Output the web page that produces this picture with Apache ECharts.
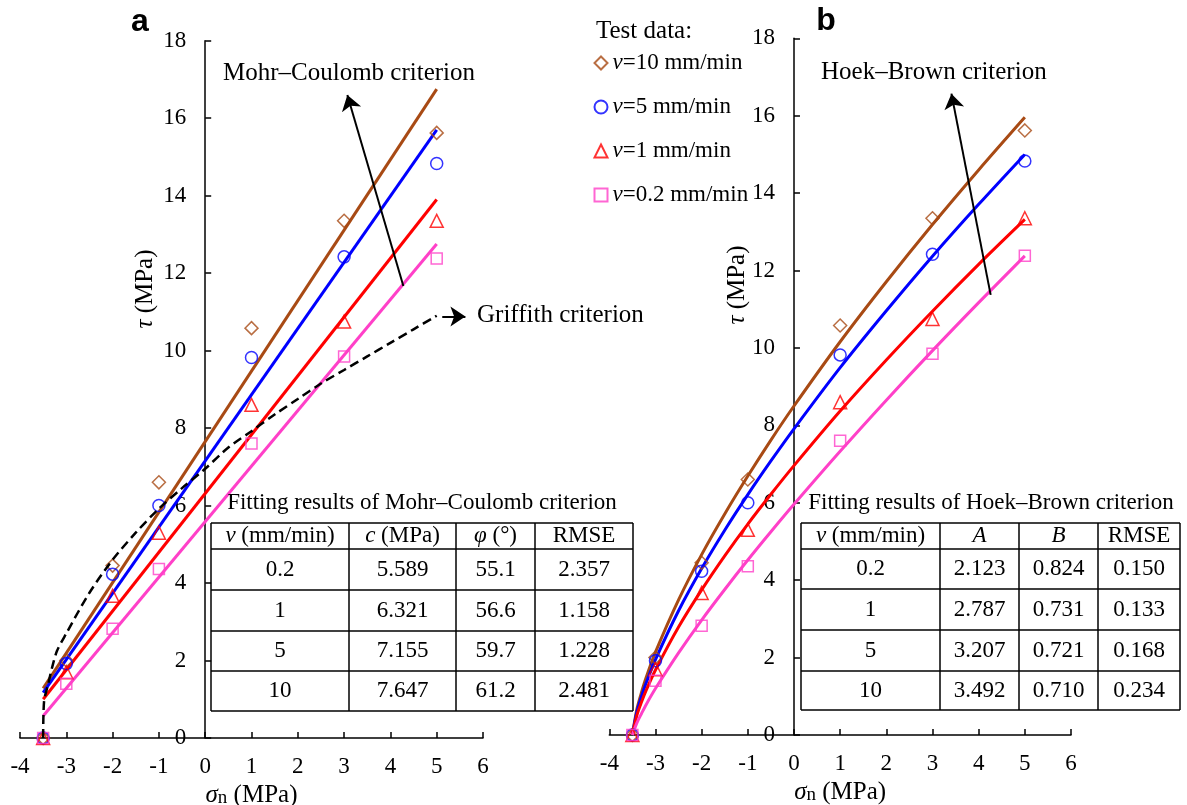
<!DOCTYPE html>
<html><head><meta charset="utf-8">
<script src="https://cdn.jsdelivr.net/npm/echarts@6/dist/echarts.min.js"></script>
<style>html,body{margin:0;padding:0;background:#fff}#c{width:1187px;height:805px}</style>
</head><body><div id="c"></div>
<script>
// ---------- data ----------
const sigmaTest = [-3.5, -3, -2, -1, 1, 3, 5];
const tau10 = [0, 2.0, 4.45, 6.6, 10.58, 13.35, 15.62];
const tau5  = [0, 1.92, 4.23, 6.0, 9.82, 12.42, 14.83];
const tau1  = [0, 1.7, 3.67, 5.3, 8.6, 10.75, 13.35];
const tau02 = [0, 1.4, 2.82, 4.36, 7.6, 9.85, 12.38];

// Mohr-Coulomb fitted lines (end points)
const mcSigma = [-3.5, 5];
const mc10 = [1.28, 16.75];
const mc5  = [1.17, 15.70];
const mc1  = [1.00, 13.90];
const mc02 = [0.57, 12.75];

// Griffith criterion curve
const grSigma = [-3.5, -3.48, -3.4, -3.3, -3.2, -3, -2.5, -2, -1.5, -1, -0.5, 0, 0.5, 1, 1.5, 2, 2.5, 3, 3.5, 4, 4.5, 5];
const grTau   = [0, 0.95, 1.35, 1.85, 2.25, 2.7, 3.75, 4.6, 5.3, 5.92, 6.45, 6.95, 7.5, 7.92, 8.35, 8.75, 9.15, 9.5, 9.85, 10.2, 10.55, 10.9];

// Hoek-Brown fitted curves
const hbSigma = [-3.5, -3.4, -3.3, -3.2, -3, -2.5, -2, -1.5, -1, -0.5, 0, 1, 2, 3, 4, 5];
const hb10 = [0, 0.68, 1.11, 1.49, 2.14, 3.49, 4.66, 5.71, 6.69, 7.62, 8.50, 10.16, 11.71, 13.19, 14.60, 15.96];
const hb5  = [0, 0.61, 1.01, 1.35, 1.95, 3.21, 4.30, 5.29, 6.21, 7.08, 7.91, 9.49, 10.96, 12.37, 13.71, 15.00];
const hb1  = [0, 0.52, 0.86, 1.16, 1.68, 2.79, 3.75, 4.63, 5.45, 6.22, 6.96, 8.37, 9.69, 10.95, 12.16, 13.32];
const hb02 = [0, 0.32, 0.56, 0.79, 1.20, 2.12, 2.97, 3.76, 4.52, 5.25, 5.96, 7.33, 8.65, 9.93, 11.17, 12.38];

// annotation arrows [start, end] in data coords
const mcArrow = [[4.28, 11.67], [3.07, 16.6]];
const hbArrow = [[4.26, 11.37], [3.41, 16.57]];
const grArrow = [[5.12, 10.88], [5.62, 10.88]];

const seriesNames = ['v=10 mm/min', 'v=5 mm/min', 'v=1 mm/min', 'v=0.2 mm/min'];
const mcHeader = ['{i|v} (mm/min)', '{i|c} (MPa)', '{i|φ} (°)', 'RMSE'];
const mcTableRows = [['0.2','5.589','55.1','2.357'],['1','6.321','56.6','1.158'],['5','7.155','59.7','1.228'],['10','7.647','61.2','2.481']];
const hbHeader = ['{i|v} (mm/min)', '{i|A}', '{i|B}', 'RMSE'];
const hbTableRows = [['0.2','2.123','0.824','0.150'],['1','2.787','0.731','0.133'],['5','3.207','0.721','0.168'],['10','3.492','0.710','0.234']];

// ---------- style ----------
const FONT = '"Liberation Serif","Times New Roman",serif';
const FS = 23;
const BROWN = '#A84A14', BLUE = '#0000FF', RED = '#FF0000', MAG = '#FF40C8';
const testY = [tau10, tau5, tau1, tau02];
const mcY = [mc10, mc5, mc1, mc02];
const hbY = [hb10, hb5, hb1, hb02];
const colors = [BROWN, BLUE, RED, MAG];
const symbols = ['diamond', 'circle', 'triangle', 'rect'];
const symSizes = [13, 12, 13, 11];

const pair = (xs, ys) => xs.map((x, i) => [x, ys[i]]);
const richI = { i: { fontStyle: 'italic', fontFamily: FONT, fontSize: FS, color: '#000' } };

const grids = [
  { left: 20, top: 40.7, width: 463, height: 697.3 },
  { left: 609.3, top: 38.3, width: 461.7, height: 696.7 }
];
const X_MIN = -4, X_MAX = 6;

function xAxis(gi) {
  return {
    type: 'value', gridIndex: gi, min: X_MIN, max: X_MAX, interval: 1,
    axisLine: { onZero: false, lineStyle: { color: '#000', width: 1.5 } },
    axisTick: { inside: true, length: 6, lineStyle: { color: '#000', width: 1.5 } },
    axisLabel: { color: '#000', fontFamily: FONT, fontSize: FS, margin: 17 },
    splitLine: { show: false },
    name: '{s|σ}{n|n} (MPa)', nameLocation: 'middle', nameGap: 40,
    nameTextStyle: { color: '#000', fontFamily: FONT, fontSize: 25,
      rich: { s: { fontStyle: 'italic', fontFamily: FONT, fontSize: 25, color: '#000', verticalAlign: 'bottom' },
              n: { fontFamily: FONT, fontSize: 19, color: '#000', verticalAlign: 'bottom' } } }
  };
}
function yAxis(gi) {
  const g = grids[gi];
  const off = -g.width * (0 - X_MIN) / (X_MAX - X_MIN);
  return {
    type: 'value', gridIndex: gi, min: 0, max: 18, interval: 2, position: 'left', offset: off,
    axisLine: { onZero: false, lineStyle: { color: '#000', width: 1.5 } },
    axisTick: { inside: true, length: 6, lineStyle: { color: '#000', width: 1.5 } },
    axisLabel: { color: '#000', fontFamily: FONT, fontSize: FS, margin: 19 },
    splitLine: { show: false }
  };
}

const series = [];
for (let g = 0; g < 2; g++) {
  for (let k = 0; k < 4; k++) {
    series.push({
      type: 'line', xAxisIndex: g, yAxisIndex: g, silent: true, showSymbol: false, symbol: 'none',
      smooth: g === 1 ? 0.3 : false,
      data: g === 0 ? pair(mcSigma, mcY[k]) : pair(hbSigma, hbY[k]),
      lineStyle: { color: colors[k], width: 3 }, z: 2
    });
  }
  for (let k = 0; k < 4; k++) {
    series.push({
      type: 'scatter', name: seriesNames[k], xAxisIndex: g, yAxisIndex: g,
      symbol: symbols[k], symbolSize: symSizes[k],
      data: pair(sigmaTest, testY[k]),
      itemStyle: { color: 'rgba(255,255,255,0)', borderColor: colors[k], borderWidth: 1.5 }, z: 3
    });
  }
}
series.push({
  type: 'line', xAxisIndex: 0, yAxisIndex: 0, silent: true, showSymbol: false, symbol: 'none', smooth: 0.3,
  data: pair(grSigma, grTau), lineStyle: { color: '#000', width: 2.5, type: [9, 5] }, z: 4
});
function arrow(gi, seg) {
  return {
    type: 'lines', coordinateSystem: 'cartesian2d', xAxisIndex: gi, yAxisIndex: gi, silent: true,
    symbol: ['none', 'arrow'], symbolSize: 15, z: 5,
    lineStyle: { color: '#000', width: 2, opacity: 1, curveness: 0 },
    data: [{ coords: seg }]
  };
}
series.push(arrow(0, mcArrow), arrow(0, grArrow), arrow(1, hbArrow));

// ---------- graphics ----------
function txt(x, y, text, o) {
  o = o || {};
  const size = o.size || FS;
  const fam = o.family || FONT;
  const font = (o.bold ? 'bold ' : '') + size + 'px ' + fam;
  return {
    type: 'text', x: x, y: y, rotation: o.rot || 0, silent: true, z: 100,
    style: { text: text, font: font, fill: '#000',
      align: o.align || 'left', verticalAlign: 'middle',
      textAlign: o.align || 'left', textVerticalAlign: 'middle',
      rich: o.rich }
  };
}
function line(x1, y1, x2, y2) {
  return { type: 'line', silent: true, z: 100, shape: { x1, y1, x2, y2 }, style: { stroke: '#000', lineWidth: 1.5 } };
}
function table(cols, rows, header, body) {
  const els = [];
  rows.forEach(r => els.push(line(cols[0], r, cols[cols.length - 1], r)));
  cols.forEach(c => els.push(line(c, rows[0], c, rows[rows.length - 1])));
  const cx = i => (cols[i] + cols[i + 1]) / 2;
  const cy = j => (rows[j] + rows[j + 1]) / 2;
  header.forEach((h, i) => els.push(txt(cx(i), cy(0), h, { align: 'center', rich: richI })));
  body.forEach((row, j) => row.forEach((v, i) => els.push(txt(cx(i), cy(j + 1), v, { align: 'center' }))));
  return els;
}
const mcCols = [211, 349, 456, 535, 633], mcRows = [523, 549, 590, 631, 671, 711];
const hbCols = [801, 940, 1019, 1098, 1180], hbRows = [523, 549, 589, 630, 671, 710];

const yTitleRich = { t: { fontStyle: 'italic', fontFamily: FONT, fontSize: 25, color: '#000' } };
const graphics = [
  txt(140, 22, 'a', { bold: true, size: 32, family: '"Liberation Sans",Arial,sans-serif', align: 'center' }),
  txt(826, 21, 'b', { bold: true, size: 32, family: '"Liberation Sans",Arial,sans-serif', align: 'center' }),
  txt(145, 289, '{t|τ} (MPa)', { rot: Math.PI / 2, align: 'center', size: 25, rich: yTitleRich }),
  txt(737, 285, '{t|τ} (MPa)', { rot: Math.PI / 2, align: 'center', size: 25, rich: yTitleRich }),
  txt(223, 73, 'Mohr–Coulomb criterion', { size: 25 }),
  txt(477, 315, 'Griffith criterion', { size: 25 }),
  txt(821, 72, 'Hoek–Brown criterion', { size: 25 }),
  txt(596, 31, 'Test data:', { size: 25 }),
  txt(422, 503, 'Fitting results of Mohr–Coulomb criterion', { align: 'center' }),
  txt(991, 503, 'Fitting results of Hoek–Brown criterion', { align: 'center' })
].concat(table(mcCols, mcRows, mcHeader, mcTableRows), table(hbCols, hbRows, hbHeader, hbTableRows));

const chart = echarts.init(document.getElementById('c'), null, { renderer: 'canvas' });
chart.setOption({
  animation: false,
  backgroundColor: '#fff',
  grid: grids.map(g => Object.assign({ containLabel: false, outerBoundsMode: 'none' }, g)),
  xAxis: [xAxis(0), xAxis(1)],
  yAxis: [yAxis(0), yAxis(1)],
  legend: {
    data: seriesNames, orient: 'vertical', left: 588.5, top: 46,
    itemWidth: 13, itemHeight: 13, itemGap: 20, selectedMode: false,
    formatter: n => '{i|v}' + n.slice(1),
    textStyle: { color: '#000', fontFamily: FONT, fontSize: FS, lineHeight: 24,
      rich: { i: { fontStyle: 'italic', fontFamily: FONT, fontSize: FS, color: '#000', lineHeight: 24 } } }
  },
  series: series,
  graphic: graphics
});
</script>
</body></html>
